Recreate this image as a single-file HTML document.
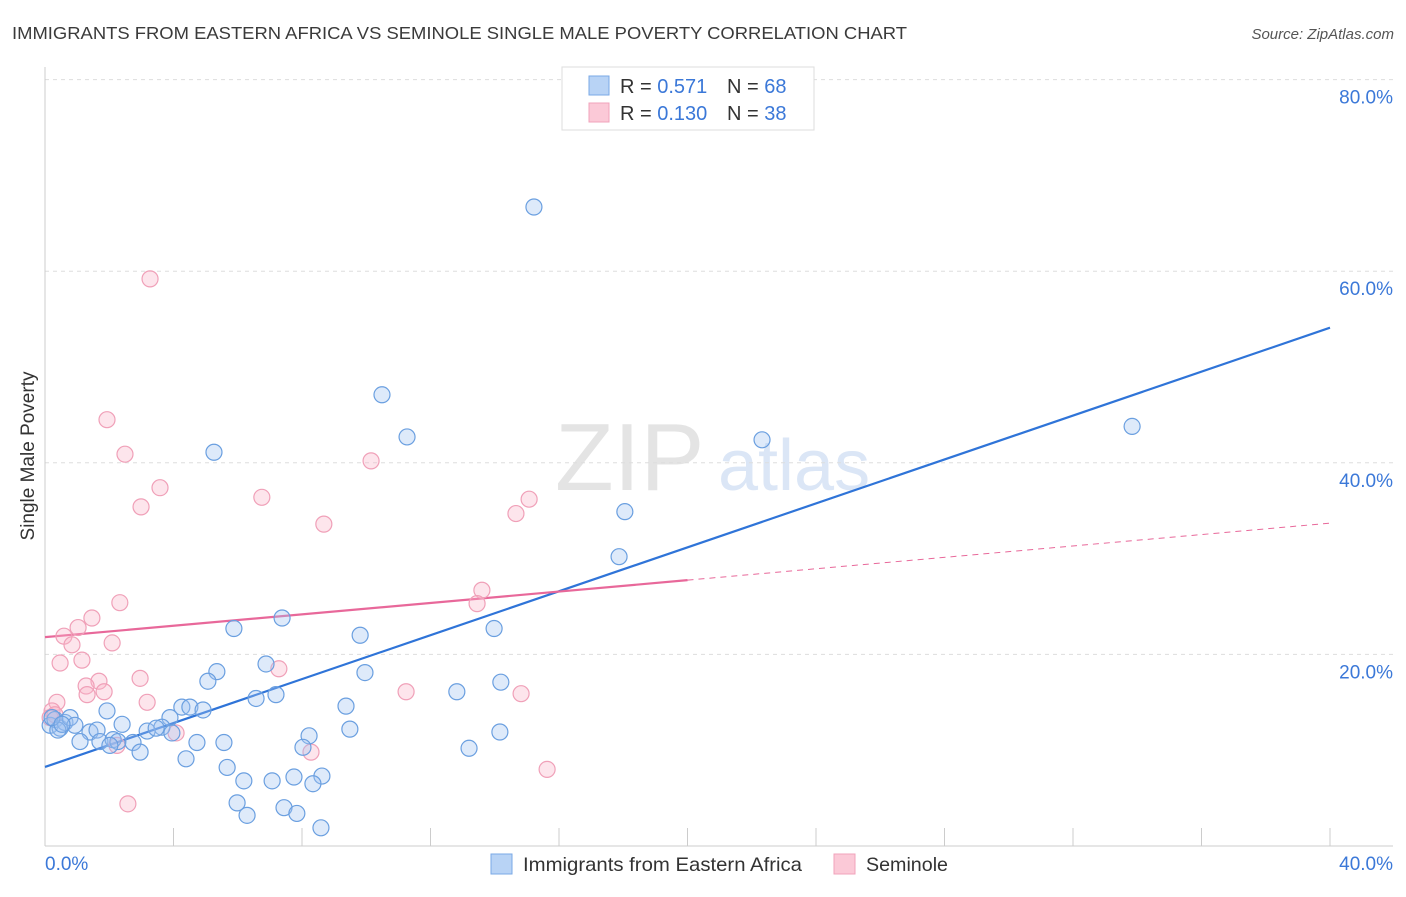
<!DOCTYPE html>
<html><head><meta charset="utf-8"><style>
body{margin:0;background:#fff;font-family:"Liberation Sans",sans-serif;}
svg text{font-family:"Liberation Sans",sans-serif;}
</style></head><body>
<svg id="chart" width="1406" height="892" xmlns="http://www.w3.org/2000/svg">
<text x="12" y="39" font-size="17.5" fill="#3a3a3a" textLength="895" lengthAdjust="spacingAndGlyphs">IMMIGRANTS FROM EASTERN AFRICA VS SEMINOLE SINGLE MALE POVERTY CORRELATION CHART</text>
<text x="1394" y="39" font-size="15" fill="#555" font-style="italic" text-anchor="end">Source: ZipAtlas.com</text>
<g>
<text x="555" y="490" font-size="96" fill="#e4e4e4" font-family="Liberation Serif, serif">ZIP</text>
<text x="718" y="490" font-size="72" fill="#dbe6f6">atlas</text>
</g>
<g id="grid"></g>
<g id="axes"></g>
<g id="lines"></g>
<g id="pts"></g>
<text transform="translate(34,456) rotate(-90)" font-size="19" fill="#333" text-anchor="middle">Single Male Poverty</text>
<g>
<rect x="562" y="67" width="252" height="63" fill="#fff" stroke="#ddd"/>
<rect x="589" y="76" width="20" height="19" fill="#b8d3f5" stroke="#7aa8e6"/>
<rect x="589" y="103" width="20" height="19" fill="#fbc9d7" stroke="#f0a3bb"/>
<text x="620" y="93" font-size="20" fill="#333">R = <tspan fill="#3b78d8">0.571</tspan></text>
<text x="727" y="93" font-size="20" fill="#333">N = <tspan fill="#3b78d8">68</tspan></text>
<text x="620" y="120" font-size="20" fill="#333">R = <tspan fill="#3b78d8">0.130</tspan></text>
<text x="727" y="120" font-size="20" fill="#333">N = <tspan fill="#3b78d8">38</tspan></text>
</g>
<g>
<rect x="491" y="854" width="21" height="20" fill="#b8d3f5" stroke="#7aa8e6"/>
<text x="523" y="871" font-size="19.5" fill="#333" textLength="279" lengthAdjust="spacingAndGlyphs">Immigrants from Eastern Africa</text>
<rect x="834" y="854" width="21" height="20" fill="#fbc9d7" stroke="#f0a3bb"/>
<text x="866" y="871" font-size="19.5" fill="#333" textLength="82" lengthAdjust="spacingAndGlyphs">Seminole</text>
</g>
</svg>
<script>
const yTicks=[20,40,60,80];
const yTickLabels=["20.0%","40.0%","60.0%","80.0%"];
const xTickLabels=["0.0%","40.0%"];
const blueX=[15.22,10.49,11.27,5.26,22.32,33.84,18.05,17.87,7.38,5.88,13.98,9.81,6.88,5.35,9.96,5.07,14.19,12.82,6.57,7.19,9.37,4.26,4.51,4.92,1.93,3.89,2.40,3.64,3.18,9.49,14.16,8.22,3.95,0.16,0.31,0.47,0.62,0.78,0.93,1.40,1.62,1.09,1.71,2.12,2.27,2.74,2.96,4.73,5.57,8.03,13.20,4.39,5.67,6.19,7.07,7.75,8.62,8.34,5.98,7.44,7.84,6.29,8.59,0.40,0.22,0.53,2.02,3.46];
const blueY=[66.7,47.1,42.7,41.1,42.4,43.8,34.9,30.2,23.8,22.7,22.7,22.0,19.0,18.2,18.1,17.2,17.1,16.1,15.4,15.8,14.6,14.5,14.5,14.2,14.1,13.4,12.7,12.4,12.0,12.2,11.9,11.5,11.8,12.6,13.2,12.3,12.9,13.4,12.6,11.9,12.1,10.9,10.9,11.1,10.9,10.8,9.8,10.8,10.8,10.3,10.2,9.1,8.2,6.8,6.8,7.2,7.3,6.5,4.5,4.0,3.4,3.2,1.9,12.1,13.4,12.7,10.5,12.3];
const pinkX=[3.27,1.93,2.49,3.58,10.15,6.75,2.99,8.68,15.07,14.66,13.60,13.45,2.33,1.46,1.03,0.59,0.84,2.09,1.15,0.47,2.96,1.68,1.28,1.84,1.31,7.28,11.24,14.82,3.18,0.37,0.22,0.16,4.08,2.24,8.28,15.63,2.58,0.31];
const pinkY=[59.2,44.5,40.9,37.4,40.2,36.4,35.4,33.6,36.2,34.7,26.7,25.3,25.4,23.8,22.8,21.9,21.0,21.2,19.4,19.1,17.5,17.2,16.7,16.1,15.8,18.5,16.1,15.9,15.0,15.0,14.1,13.4,11.8,10.5,9.8,8.0,4.4,13.7];
const blueFit=[8.25,54.1];
const pinkFit=[21.8,33.7];
const pinkSolidEnd=20;
const NS="http://www.w3.org/2000/svg";
const sx=v=>45+v*32.125, sy=v=>846-v*9.58;
function mk(t,a,p){const e=document.createElementNS(NS,t);for(const k in a)e.setAttribute(k,a[k]);document.getElementById(p).appendChild(e);return e;}
yTicks.forEach((t,i)=>{
 const g=mk('line',{x1:45,x2:1393,y1:sy(t),y2:sy(t),stroke:'#ddd','stroke-dasharray':'4,4'},'grid');
 
 
 const l=mk('text',{x:1393,y:sy(t)+24,'font-size':19,fill:'#3b78d8','text-anchor':'end'},'axes');
 l.textContent=yTickLabels[i];
 
 
});
mk('line',{x1:45,x2:45,y1:67,y2:846,stroke:'#ccc'},'axes');
mk('line',{x1:45,x2:1393,y1:846,y2:846,stroke:'#ccc'},'axes');
for(let i=0;i<=10;i++){mk('line',{x1:sx(i*4),x2:sx(i*4),y1:828,y2:846,stroke:'#ccc'},'axes');}
[0,40].forEach((v,i)=>{
 const l=mk('text',{x:i?1393:45,y:870,'font-size':19,fill:'#3b78d8','text-anchor':i?'end':'start'},'axes');
 l.textContent=xTickLabels[i];
 
 
});
function pts(xs,ys,fill,stroke,name){xs.forEach((x,i)=>{
 const c=mk('circle',{cx:sx(x),cy:sy(ys[i]),r:8,fill:fill,stroke:stroke,'stroke-width':1.2},'pts');
 
 
});}
pts(pinkX,pinkY,'rgba(248,180,200,0.35)','#f0a0b8','seminole-point');
pts(blueX,blueY,'rgba(160,196,240,0.35)','#6a9fe0','eastern-africa-point');
const bl=mk('line',{x1:sx(0),y1:sy(blueFit[0]),x2:sx(40),y2:sy(blueFit[1]),stroke:'#2f74d8','stroke-width':2.2},'lines');


const pm=pinkFit[0]+(pinkFit[1]-pinkFit[0])*pinkSolidEnd/40;
const pl=mk('line',{x1:sx(0),y1:sy(pinkFit[0]),x2:sx(pinkSolidEnd),y2:sy(pm),stroke:'#e8689a','stroke-width':2.2},'lines');


const pd=mk('line',{x1:sx(pinkSolidEnd),y1:sy(pm),x2:sx(40),y2:sy(pinkFit[1]),stroke:'#e8689a','stroke-width':1,'stroke-dasharray':'6,5'},'lines');


</script>
</body></html>
